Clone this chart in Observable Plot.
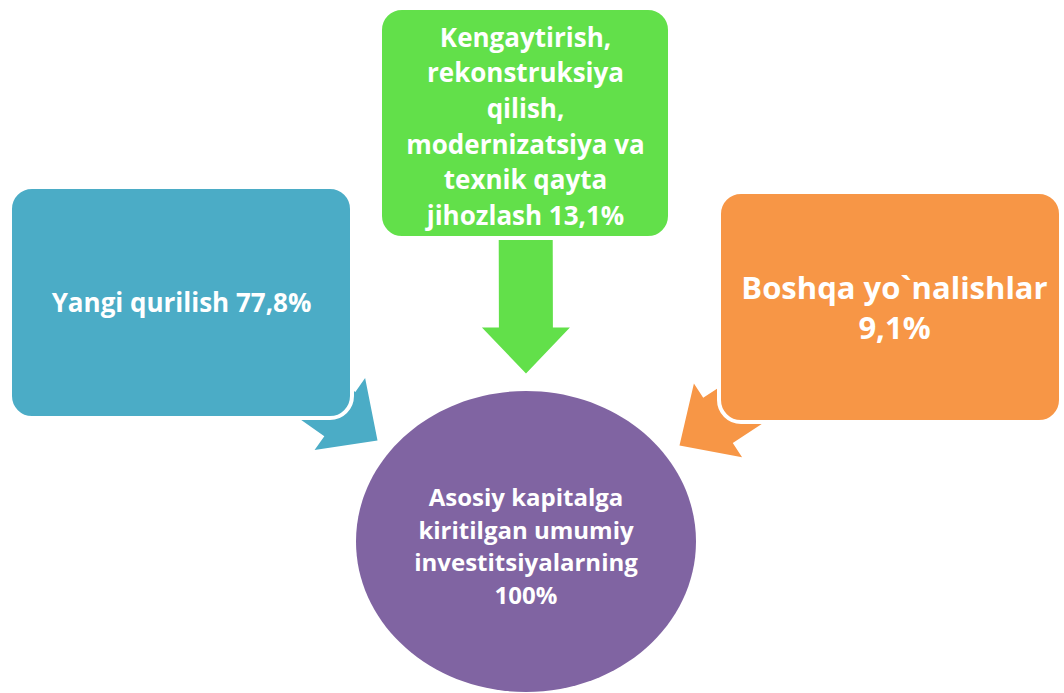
<!DOCTYPE html>
<html>
<head>
<meta charset="utf-8">
<script src="https://cdn.jsdelivr.net/npm/d3@7"></script>
<script src="https://cdn.jsdelivr.net/npm/@observablehq/plot@0.6"></script>
<style>
  html, body { margin: 0; padding: 0; background: #ffffff; }
  #chart svg { display: block; }
</style>
</head>
<body>
<div id="chart"></div>
<script>
// ---- data ----
const categories = [
  "Yangi qurilish",
  "Kengaytirish,\nrekonstruksiya\nqilish,\nmodernizatsiya va\ntexnik qayta\njihozlash",
  "Boshqa yo`nalishlar"
];
const values = [77.8, 13.1, 9.1];
const totalLabel = "Asosiy kapitalga\nkiritilgan umumiy\ninvestitsiyalarning";
const totalValue = 100;

// ---- layout (positions, sizes, styles) ----
const boxLayout = [
  {x1: 10,  x2: 352,  y1: 187, y2: 418, color: "#4BACC6", tx: 181, ty: 302, fontSize: 26, lineHeight: 1.2, sep: " ",  tip: [377, 440]},
  {x1: 380, x2: 670,  y1: 8,   y2: 238, color: "#62E04A", tx: 525, ty: 124, fontSize: 26, lineHeight: 1.37, sep: " ", tip: [525.5, 373]},
  {x1: 719, x2: 1061, y1: 192, y2: 422, color: "#F79646", tx: 894, ty: 306, fontSize: 31, lineHeight: 1.29, sep: "\n", tip: [679, 445]}
];
const hub = {cx: 525.5, cy: 541, rx: 170, ry: 150.5, color: "#8064A2", fontSize: 24, lineHeight: 1.36, ty: 544};
const arrowStyle = {shaftHalf: 27, headHalf: 44, headLen: 46};

const fmt = v => String(v).replace(".", ",") + "%";

// boxes table
const boxes = categories.map((c, i) => ({
  ...boxLayout[i],
  label: c + boxLayout[i].sep + fmt(values[i])
}));

// block arrow polygons from box centre toward the hub
const arrowPts = [];
boxes.forEach((b, i) => {
  const sx = (b.x1 + b.x2) / 2, sy = (b.y1 + b.y2) / 2;
  const [tx, ty] = b.tip;
  const L = Math.hypot(tx - sx, ty - sy);
  const ux = (tx - sx) / L, uy = (ty - sy) / L;
  const nx = -uy, ny = ux;
  const bx = tx - ux * arrowStyle.headLen, by = ty - uy * arrowStyle.headLen;
  const h = arrowStyle.shaftHalf, H = arrowStyle.headHalf;
  const pts = [
    [sx + nx * h, sy + ny * h],
    [bx + nx * h, by + ny * h],
    [bx + nx * H, by + ny * H],
    [tx, ty],
    [bx - nx * H, by - ny * H],
    [bx - nx * h, by - ny * h],
    [sx - nx * h, sy - ny * h]
  ];
  pts.forEach(([x, y]) => arrowPts.push({x, y, id: i, color: b.color}));
});

// ellipse symbol for the hub
const ellipseSymbol = ratio => ({
  draw(ctx, size) {
    const r = Math.sqrt(size / Math.PI);
    const rx = r, ry = r * ratio, k = 0.5522847498;
    ctx.moveTo(rx, 0);
    ctx.bezierCurveTo(rx, ry * k, rx * k, ry, 0, ry);
    ctx.bezierCurveTo(-rx * k, ry, -rx, ry * k, -rx, 0);
    ctx.bezierCurveTo(-rx, -ry * k, -rx * k, -ry, 0, -ry);
    ctx.bezierCurveTo(rx * k, -ry, rx, -ry * k, rx, 0);
    ctx.closePath();
  }
});

const W = 1064, Hgt = 693;
const font = "'Open Sans', Lato, sans-serif";

const chart = Plot.plot({
  width: W,
  height: Hgt,
  margin: 0,
  style: {background: "#ffffff", fontFamily: font},
  x: {domain: [0, W], range: [0, W], axis: null},
  y: {domain: [0, Hgt], range: [0, Hgt], axis: null},
  marks: [
    Plot.line(arrowPts, {x: "x", y: "y", z: "id", fill: d => d.color, stroke: "none", curve: "linear-closed"}),
    Plot.rect(boxes, {x1: "x1", x2: "x2", y1: "y1", y2: "y2", fill: "color", stroke: "#ffffff", strokeWidth: 4, rx: 22}),
    Plot.dot([hub], {x: "cx", y: "cy", r: hub.rx, symbol: ellipseSymbol(hub.ry / hub.rx), fill: hub.color, stroke: "none"}),
    ...boxes.map(b => Plot.text([b], {
      x: "tx", y: "ty", text: "label", fill: "#ffffff", fontSize: b.fontSize, fontWeight: "bold",
      lineHeight: b.lineHeight, textAnchor: "middle", lineAnchor: "middle", fontFamily: font
    })),
    Plot.text([{x: hub.cx, y: hub.ty, label: totalLabel + "\n" + totalValue + "%"}], {
      x: "x", y: "y", text: "label", fill: "#ffffff", fontSize: hub.fontSize, fontWeight: "bold",
      lineHeight: hub.lineHeight, textAnchor: "middle", lineAnchor: "middle", fontFamily: font
    })
  ]
});
chart.style.fontFamily = font;
document.getElementById("chart").append(chart);
</script>
</body>
</html>
